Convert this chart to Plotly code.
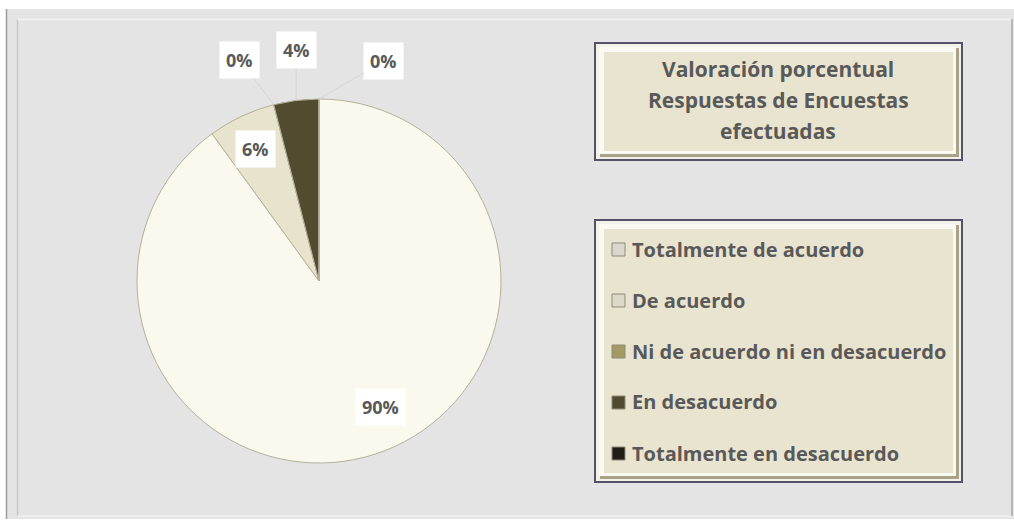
import math
import plotly.graph_objects as go

# ---- data ----
categories = ["Totalmente de acuerdo", "De acuerdo", "Ni de acuerdo ni en desacuerdo",
              "En desacuerdo", "Totalmente en desacuerdo"]
values = [90, 6, 0, 4, 0]
title_lines = ["Valoración porcentual", "Respuestas de Encuestas", "efectuadas"]

# ---- styles ----
slice_colors = ["#FBF9EE", "#E8E3CC", "#A39A64", "#514B2F", "#1F1D15"]
swatch_colors = ["#DAD8CE", "#DDD9C8", "#A39A64", "#4F4A30", "#1F1D15"]
W, H = 1014, 523
FONT = "Open Sans"
TXT = "#595959"
cx, cy, R = 319, 281, 182          # pie centre / radius in px (layout)
inside_frac = 0.78
# label offsets (px) for slices whose label sits outside with a leader line
outside_offsets = {2: (-34, -45), 3: (0, -50), 4: (65, -38)}
# small placement nudges (px) for inside labels
inside_nudge = {0: (18, -9), 1: (-3, -4)}


def px(x):
    return x / W


def py(y):
    return 1 - y / H


fig = go.Figure()
fig.add_trace(go.Pie(
    labels=categories, values=values, sort=False, direction="clockwise", rotation=0,
    marker=dict(colors=slice_colors, line=dict(color="#B5B09A", width=1)),
    textinfo="none", showlegend=False,
    domain=dict(x=[px(cx - R), px(cx + R)], y=[py(cy + R), py(cy - R)]),
))


def rect(x0, y0, x1, y1, fill, lc="rgba(0,0,0,0)", lw=0, layer="below"):
    return dict(type="rect", xref="paper", yref="paper", x0=px(x0), x1=px(x1), y0=py(y1), y1=py(y0),
                fillcolor=fill, line=dict(color=lc, width=lw), layer=layer)


def line(x0, y0, x1, y1, color, w=1):
    return dict(type="line", xref="paper", yref="paper", x0=px(x0), x1=px(x1), y0=py(y0), y1=py(y1),
                line=dict(color=color, width=w), layer="below")


shapes = []
# outer frame
shapes.append(rect(6, 9, 1014, 519, "#E4E4E4"))
shapes.append(line(6.5, 9, 6.5, 519, "#9C9C9C", 1.5))
shapes.append(line(17.5, 19, 17.5, 516, "#C8C8C8", 1.5))
shapes.append(line(17.5, 19.5, 1012, 19.5, "#F4F4F4", 1.5))
shapes.append(line(17.5, 516, 1012, 516, "#F0F0F0", 1.5))
shapes.append(line(1012, 19, 1012, 516, "#A8A8A8", 1.5))


def bevel_box(x0, y0, x1, y1):
    out = []
    out.append(rect(x0, y0, x1, y1, "#F4F2E8", "#55516A", 2))
    out.append(rect(x0 + 5, y0 + 5, x1 - 3, y1 - 3, "#A8A288"))
    out.append(rect(x0 + 4, y0 + 4, x1 - 6, y1 - 6, "#FAF9F2"))
    out.append(rect(x0 + 9, y0 + 9, x1 - 9, y1 - 9, "#E9E4CF"))
    return out


shapes += bevel_box(595, 43, 962, 160)
shapes += bevel_box(595, 220, 962, 482)

annotations = []
# title (one annotation per line for Excel-like spacing)
title_y0, title_dy = 69, 31
for k, t in enumerate(title_lines):
    annotations.append(dict(xref="paper", yref="paper", x=px(778), y=py(title_y0 + k * title_dy),
                            text=t, showarrow=False, xanchor="center", yanchor="middle",
                            font=dict(family=FONT, size=21, color=TXT, weight="bold")))

# legend (manual, for Excel-like spacing)
leg_y0, leg_dy = 250, 51
for i, (cat, col) in enumerate(zip(categories, swatch_colors)):
    yy = leg_y0 + i * leg_dy
    shapes.append(rect(612, yy - 7, 625, yy + 6, col, "#8E8A78", 1, "above"))
    annotations.append(dict(xref="paper", yref="paper", x=px(630), y=py(yy - 1), text=cat, showarrow=False,
                            xanchor="left", yanchor="middle",
                            font=dict(family=FONT, size=20, color=TXT, weight="bold")))

# pie data labels
total = sum(values)
cum = 0
for i, v in enumerate(values):
    mid = (cum + v / 2) / total * 2 * math.pi
    cum += v
    pct = f"{round(100 * v / total)}%"
    lab = dict(text=pct, bgcolor="white", borderpad=6,
               font=dict(family=FONT, size=18, color=TXT, weight="bold"))
    if i in outside_offsets:
        ex = cx + R * math.sin(mid)
        ey = cy - R * math.cos(mid)
        ax, ay = outside_offsets[i]
        annotations.append(dict(xref="paper", yref="paper", x=px(ex), y=py(ey), showarrow=True,
                                ax=ax, ay=ay, arrowhead=0, arrowwidth=1, arrowcolor="#D6D6D6",
                                standoff=0, **lab))
    else:
        nx, ny = inside_nudge.get(i, (0, 0))
        lx = cx + inside_frac * R * math.sin(mid) + nx
        ly = cy - inside_frac * R * math.cos(mid) + ny
        annotations.append(dict(xref="paper", yref="paper", x=px(lx), y=py(ly), showarrow=False,
                                xanchor="center", yanchor="middle", **lab))

fig.update_layout(width=W, height=H, autosize=False, margin=dict(l=0, r=0, t=0, b=0),
                  paper_bgcolor="white", plot_bgcolor="white",
                  shapes=shapes, annotations=annotations)
fig.write_html("out.html", config={"displayModeBar": False},
               post_script="document.body.style.margin='0';document.body.style.overflow='hidden';")
